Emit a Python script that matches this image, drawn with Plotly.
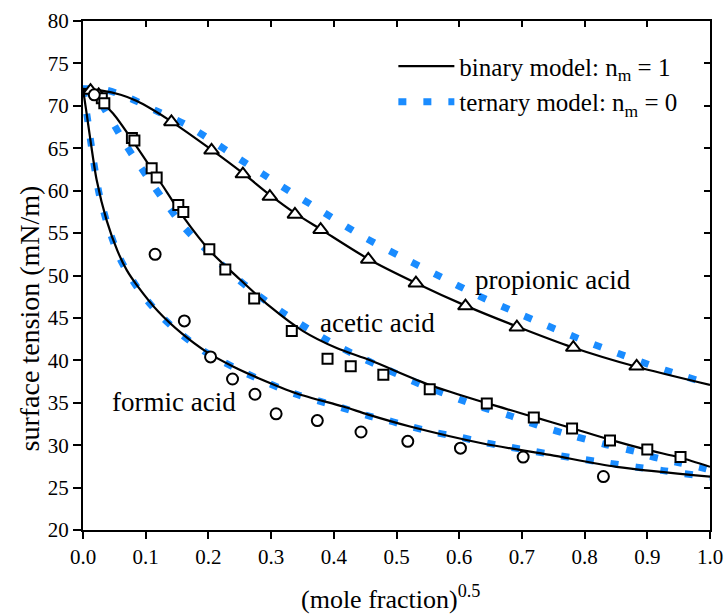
import plotly.graph_objects as go

# ---- experimental surface tension data, x = (mole fraction)^0.5 ----
propionic_x = [0.012, 0.025, 0.141, 0.205, 0.255, 0.298, 0.338, 0.379, 0.455, 0.531, 0.610, 0.692, 0.782, 0.883]
propionic_y = [71.8, 71.3, 68.1, 64.75, 61.95, 59.3, 57.2, 55.4, 51.9, 49.1, 46.4, 43.9, 41.5, 39.3]

acetic_x = [0.030, 0.034, 0.078, 0.082, 0.1095, 0.1175, 0.152, 0.160, 0.2015, 0.227, 0.273, 0.333,
            0.390, 0.427, 0.479, 0.553, 0.644, 0.719, 0.780, 0.8405, 0.900, 0.953]
acetic_y = [70.9, 70.3, 66.2, 65.9, 62.65, 61.55, 58.3, 57.5, 53.1, 50.7, 47.3, 43.45,
            40.2, 39.3, 38.3, 36.6, 34.9, 33.25, 31.95, 30.55, 29.5, 28.6]

formic_x = [0.018, 0.115, 0.1616, 0.2035, 0.2385, 0.2743, 0.308, 0.3737, 0.4434, 0.518, 0.602, 0.702, 0.830]
formic_y = [71.3, 52.5, 44.65, 40.4, 37.8, 36.0, 33.7, 32.9, 31.55, 30.45, 29.65, 28.6, 26.3]

# ---- binary model (n_m = 1) ----
bin_prop_x = [0, 0.03, 0.06, 0.085, 0.11, 0.14, 0.2025, 0.256, 0.298, 0.338, 0.38, 0.455, 0.53, 0.61,
              0.69, 0.78, 0.88, 1.0]
bin_prop_y = [72.0, 71.8, 71.3, 70.6, 69.6, 68.2, 64.95, 62.0, 59.5, 57.35, 55.4, 51.95, 49.15, 46.45,
              44.05, 41.55, 39.3, 37.1]

bin_acet_x = [0, 0.02, 0.048, 0.0855, 0.123, 0.16, 0.2025, 0.245, 0.298, 0.351, 0.4045, 0.458, 0.553,
              0.644, 0.72, 0.78, 0.84, 0.90, 0.952, 1.0]
bin_acet_y = [72.0, 71.1, 69.1, 65.2, 61.05, 56.9, 52.9, 49.9, 46.35, 43.45, 41.45, 40.0, 37.1,
              34.95, 33.3, 32.0, 30.65, 29.45, 28.55, 27.45]

bin_form_x = [0, 0.005, 0.011, 0.0218, 0.0377, 0.055, 0.07, 0.0855, 0.12, 0.157, 0.197, 0.24, 0.28,
              0.341, 0.415, 0.455, 0.5215, 0.638, 0.745, 0.851, 1.0]
bin_form_y = [72.0, 69.5, 66.4, 61.25, 56.5, 52.9, 50.6, 48.9, 45.75, 43.2, 41.0, 39.25, 37.9,
              36.1, 34.55, 33.6, 32.2, 30.2, 28.85, 27.45, 26.3]

# ---- ternary model (n_m = 0) ----
ter_prop_x = [0, 0.035, 0.07, 0.12, 0.164, 0.205, 0.245, 0.287, 0.33, 0.375, 0.444, 0.506, 0.572,
              0.628, 0.70, 0.753, 0.803, 0.854, 0.928, 1.0]
ter_prop_y = [72.0, 71.9, 71.05, 69.3, 67.8, 65.9, 63.95, 61.95, 59.9, 57.85, 54.7, 52.25, 49.8,
              47.7, 45.35, 43.7, 42.2, 40.8, 38.85, 37.2]

ter_acet_x = [0, 0.02, 0.042, 0.07, 0.1005, 0.132, 0.163, 0.2, 0.237, 0.276, 0.315, 0.339, 0.375,
              0.411, 0.447, 0.475, 0.508, 0.54, 0.576, 0.604, 0.641, 0.68, 0.729, 0.779, 0.835,
              0.886, 0.907, 0.949, 0.992, 1.0]
ter_acet_y = [72.0, 71.1, 68.7, 65.2, 61.85, 58.55, 55.55, 52.8, 50.2, 47.85, 45.8, 44.65, 43.0,
              41.5, 40.2, 39.25, 38.15, 37.1, 36.1, 35.3, 34.35, 33.5, 32.25, 31.15, 30.05,
              29.15, 28.65, 27.95, 27.25, 27.1]

ter_form_x = [0, 0.0085, 0.0165, 0.026, 0.0404, 0.059, 0.0855, 0.12, 0.157, 0.197, 0.24, 0.28, 0.34,
              0.4, 0.458, 0.487, 0.5215, 0.561, 0.601, 0.6305, 0.67, 0.721, 0.777, 0.8325, 0.883,
              0.925, 0.952, 0.989, 1.0]
ter_form_y = [72.0, 67.8, 63.65, 59.55, 55.7, 52.0, 48.7, 45.55, 43.05, 40.9, 39.2, 37.8, 36.0,
              34.7, 33.4, 32.9, 32.2, 31.5, 30.95, 30.45, 29.9, 29.25, 28.55, 27.95, 27.4,
              27.0, 26.7, 26.35, 26.25]

x_ticks = [0.0, 0.1, 0.2, 0.3, 0.4, 0.5, 0.6, 0.7, 0.8, 0.9, 1.0]
y_ticks = [20, 25, 30, 35, 40, 45, 50, 55, 60, 65, 70, 75, 80]

FONT = "Liberation Serif"
BLUE = "#1a8cff"
BLACK = "#000000"

fig = go.Figure()

# ternary model curves (blue, dotted)
for i, (xs, ys) in enumerate([(ter_prop_x, ter_prop_y), (ter_acet_x, ter_acet_y), (ter_form_x, ter_form_y)]):
    fig.add_trace(go.Scatter(
        x=xs, y=ys, mode="lines",
        line=dict(color=BLUE, width=7, dash="8px,17px", shape="spline", smoothing=0.8),
        name="ternary model: n<sub>m</sub> = 0",
        legendgroup="ternary", legendrank=2, showlegend=(i == 0), hoverinfo="skip",
    ))

# binary model curves (black, solid)
for i, (xs, ys) in enumerate([(bin_prop_x, bin_prop_y), (bin_acet_x, bin_acet_y), (bin_form_x, bin_form_y)]):
    fig.add_trace(go.Scatter(
        x=xs, y=ys, mode="lines",
        line=dict(color=BLACK, width=2.2, shape="spline", smoothing=0.8),
        name="binary model: n<sub>m</sub> = 1",
        legendgroup="binary", legendrank=1, showlegend=(i == 0), hoverinfo="skip",
    ))

# measured points (open symbols)
marker_sets = [
    (propionic_x, propionic_y, "triangle-up", 13),
    (acetic_x, acetic_y, "square", 10),
    (formic_x, formic_y, "circle", 11),
]
for xs, ys, sym, size in marker_sets:
    fig.add_trace(go.Scatter(
        x=xs, y=ys, mode="markers",
        marker=dict(symbol=sym, size=size, color="white", line=dict(color=BLACK, width=2)),
        showlegend=False, hoverinfo="skip",
    ))

# helper trace so the mirrored top/right axes are drawn
fig.add_trace(go.Scatter(x=[None], y=[None], xaxis="x2", yaxis="y2", showlegend=False, hoverinfo="skip"))

axis_common = dict(showline=True, linecolor=BLACK, linewidth=2, showgrid=False, zeroline=False,
                   tickcolor=BLACK, tickwidth=2, automargin=False)
tick_font = dict(family=FONT, size=21, color=BLACK)

fig.update_layout(
    width=727, height=614,
    margin=dict(l=83, r=17, t=21, b=84),
    paper_bgcolor="white", plot_bgcolor="white",
    font=dict(family=FONT, color=BLACK, size=21),
    xaxis=dict(range=[0, 1], tickvals=x_ticks, ticktext=[f"{v:.1f}" for v in x_ticks],
               ticks="outside", ticklen=7, tickfont=tick_font, **axis_common),
    yaxis=dict(range=[20, 80], tickvals=y_ticks, ticks="outside", ticklen=8, tickfont=tick_font,
               **axis_common),
    xaxis2=dict(range=[0, 1], overlaying="x", side="top", tickvals=x_ticks, showticklabels=False,
                ticks="inside", ticklen=6, **axis_common),
    yaxis2=dict(range=[20, 80], overlaying="y", side="right", tickvals=y_ticks, showticklabels=False,
                ticks="inside", ticklen=6, **axis_common),
    legend=dict(x=0.495, y=0.956, xanchor="left", yanchor="top", bgcolor="rgba(0,0,0,0)",
                font=dict(family=FONT, size=25), itemwidth=56, tracegroupgap=0, traceorder="grouped"),
    showlegend=True,
)

# axis titles
fig.add_annotation(x=-0.085, y=0.415, xref="paper", yref="paper", xanchor="center", yanchor="middle",
                   text="surface tension (mN/m)", textangle=-90, showarrow=False,
                   font=dict(family=FONT, size=28))
fig.add_annotation(x=0.49, y=-0.133, xref="paper", yref="paper", xanchor="center", yanchor="middle",
                   text="(mole fraction)<sup>0.5</sup>", showarrow=False,
                   font=dict(family=FONT, size=26))

# curve labels
labels = [("propionic acid", 0.75, 49.5), ("acetic acid", 0.469, 44.4), ("formic acid", 0.145, 35.1)]
for text, lx, ly in labels:
    fig.add_annotation(x=lx, y=ly, text=text, showarrow=False, font=dict(size=27, family=FONT))

fig.write_html("out.html")
